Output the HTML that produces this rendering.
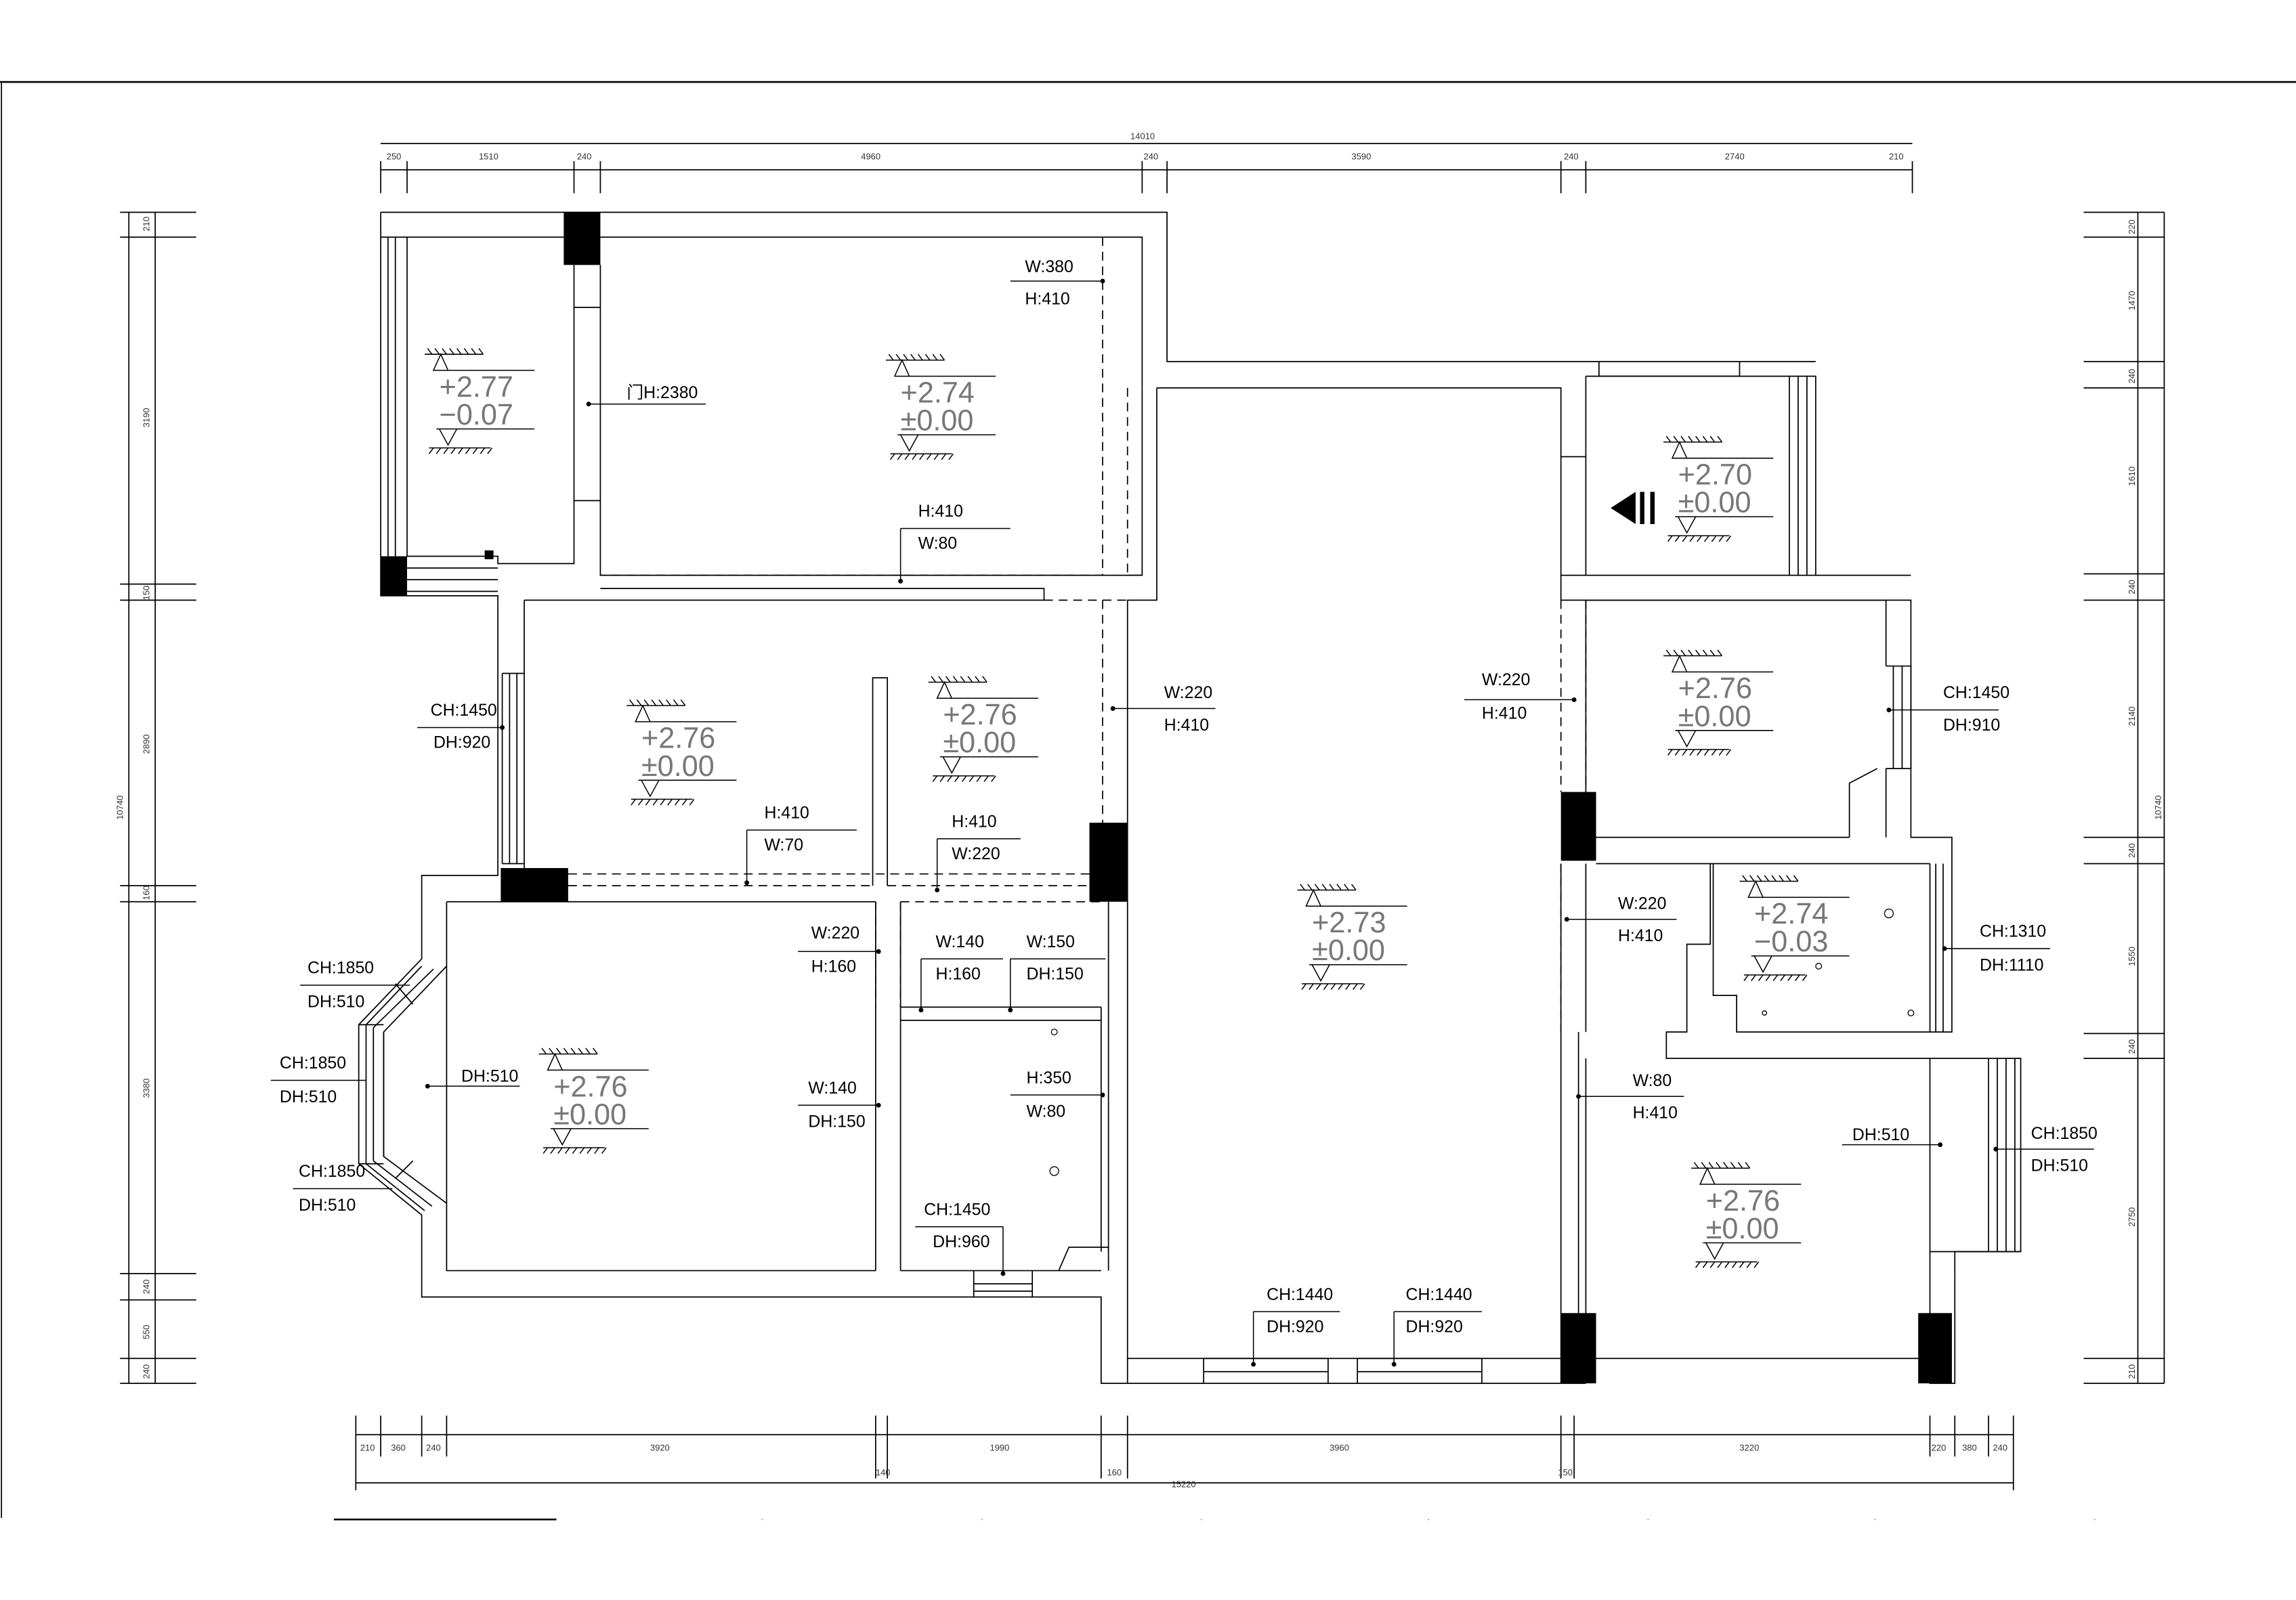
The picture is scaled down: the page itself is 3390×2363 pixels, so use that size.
<!DOCTYPE html>
<html><head><meta charset="utf-8"><style>
html,body{margin:0;padding:0;background:#fff}
svg{display:block}
text{font-family:"Liberation Sans","Noto Sans CJK SC",sans-serif;font-size:11.5px;fill:#000}
.e{font-size:20px;fill:#777;font-weight:300}
.d{font-size:6px;fill:#333}
</style></head><body>
<svg width="3390" height="2363" viewBox="0 0 1568 1093" preserveAspectRatio="none" xmlns="http://www.w3.org/2000/svg">
<defs>
<g id="mk" fill="none" stroke="#000" stroke-width="0.7">
<path d="M0 4H40M2 0l3 4M7 0l3 4M12 0l3 4M17 0l3 4M22 0l3 4M27 0l3 4M32 0l3 4M37 0l3 4"/>
<path d="M11 4L6 15H16Z M6 15H75"/>
<path d="M8 55H75 M10 55L16 66L22 55"/>
<path d="M3 68H45M3 72l3-4M8 72l3-4M13 72l3-4M18 72l3-4M23 72l3-4M28 72l3-4M33 72l3-4M38 72l3-4M43 72l3-4"/>
</g>
</defs>
<rect width="1568" height="1093" fill="#fff"/>
<g stroke="#000" stroke-width="0.8" fill="none">
<!-- frame -->
<path d="M0 56H1568" stroke-width="1.2"/>
<path d="M1 56V1037"/>
<path d="M228 1038H380" stroke-width="1.2"/>
<!-- top dims -->
<path d="M260 98H1306M260 116H1306"/>
<path d="M260 110V132M278 110V132M392 110V132M410 110V132M780 110V132M797 110V132M1066 110V132M1083 110V132M1306 110V132"/>
<!-- left dims -->
<path d="M88 145V945M106 145V945"/>
<path d="M82 145H134M82 162H134M82 399H134M82 410H134M82 605H134M82 616H134M82 870H134M82 888H134M82 928H134M82 945H134"/>
<!-- right dims -->
<path d="M1460 145V945M1478 145V945"/>
<path d="M1423 145H1478M1423 162H1478M1423 247H1478M1423 265H1478M1423 392H1478M1423 410H1478M1423 572H1478M1423 590H1478M1423 706H1478M1423 723H1478M1423 928H1478M1423 945H1478"/>
<!-- bottom dims -->
<path d="M243 980H1375M243 1013H1375"/>
<path d="M243 967V1018M260 967V995M288 967V995M305 967V995M598 967V1010M606 967V1010M752 967V1010M770 967V1010M1066 967V1010M1075 967V1010M1318 967V995M1335 967V995M1358 967V995M1375 967V1018"/>

<!-- walls upper-left balcony -->
<path d="M260 145H797V247H1240"/>
<path d="M260 145V407H340V410"/>
<path d="M260 162H392M410 162H780V265"/>
<path d="M265 162V380M270 162V380M278 162V380"/>
<path d="M278 388H340M278 396H340M278 404H340"/>
<path d="M278 380H340V385H392V181M410 181V393H780"/>
<path d="M392 210H410M392 342H410"/>
<path d="M410 402H713V410"/>
<path d="M340 410V598H288V655L245 700V795L288 830V886H752V945H1083"/>
<path d="M358 410H713M358 410V593"/>
<path d="M343 460V590M348 460V590M353 460V590M343 460H358M343 590H358"/>
<!-- dashed -->
<path d="M753 162V393H410M713 410H770M753 410V562M770 265V393" stroke-dasharray="6 4"/>
<path d="M780 265V393H770"/>
<path d="M790 265H1066V312M790 265V410H770V945"/>
<!-- room C bottom -->
<path d="M388 597H744M388 605H596M606 605H744" stroke-dasharray="6 4"/>
<path d="M596 605V463H606V605"/>
<!-- room D -->
<path d="M305 616H598M305 616V868H598M615 868H752"/>
<path d="M598 616V868M615 616V868"/>
<path d="M598 616V688M615 616V688M615 616H752" stroke-dasharray="6 4"/>
<path d="M615 688H752M615 697H752M757 616V855M752 688V855"/>
<path d="M665 868V886M705 868V886M665 877H705M665 882H705"/>
<path d="M723 868L730 852H757V868" />
<!-- bay -->
<path d="M305 660L262 705V790L305 822"/>
<path d="M250 700V795M255 702V793M262 705V790M250 700L288 660M255 702L296 662M250 795L290 827M255 793L295 824"/>
<path d="M245 700H262M245 795H262M270 672L282 686M270 805L282 793"/>
<!-- living bottom windows -->
<path d="M822 928H907V945M822 928V945M822 937H907M927 928H1012V945M927 928V945M927 937H1012"/>
<path d="M770 928H1066"/>
<!-- right upper room -->
<path d="M1092 247V257H1188V247"/>
<path d="M1083 257V393H1222V257H1083M1066 312H1083M1066 312V410"/>
<path d="M1222 257H1240V393H1222M1228 257V393M1234 257V393"/>
<path d="M1066 410H1305V455M1083 410V541M1066 393H1083"/>
<path d="M1240 393H1305"/>
<!-- room E -->
<path d="M1083 410H1288V455M1288 525V572M1305 455V525M1305 525V572H1333V590"/>
<path d="M1288 455H1305V525H1288M1293 455V525M1299 455V525"/>
<path d="M1263 572V535L1282 525"/>
<path d="M1090 572H1263M1090 590H1318"/>
<!-- room F -->
<path d="M1318 590V705H1333V590M1322 590V705M1327 590V705"/>
<path d="M1168 590V645H1152V705H1138V723H1380V855H1335V872"/>
<path d="M1170 590V680H1186V705H1318"/>
<path d="M1318 723V855M1358 723V855M1364 723V855M1370 723V855M1376 723V855M1318 855H1380"/>
<path d="M1318 855V945H1335V872"/>
<path d="M1066 590V945M1083 723V928M1083 590V705M1078 705V928"/>
<path d="M1066 410V541M1083 410V541M1066 590V705" stroke-dasharray="6 4"/>
<path d="M1083 928H1310"/>
</g>
<!-- pillars -->
<g fill="#000">
<rect x="385" y="145" width="25" height="36"/>
<rect x="260" y="380" width="18" height="27"/>
<rect x="342" y="593" width="46" height="23"/>
<rect x="744" y="562" width="26" height="54"/>
<rect x="1066" y="541" width="24" height="47"/>
<rect x="1066" y="897" width="24" height="48"/>
<rect x="1310" y="897" width="23" height="48"/>
<path d="M1100 347L1117 336V358Z"/>
<rect x="1120" y="336" width="3" height="22"/>
<rect x="1127" y="336" width="3" height="22"/>
<rect x="331" y="376" width="6" height="6"/>
</g>
<!-- small circles -->
<g fill="none" stroke="#000" stroke-width="0.6">
<circle cx="720" cy="705" r="2"/><circle cx="720" cy="800" r="3"/><circle cx="1290" cy="624" r="3"/><circle cx="1242" cy="660" r="2"/><circle cx="1205" cy="692" r="1.5"/><circle cx="1305" cy="692" r="2"/>
</g>
<!-- elevation markers -->
<use href="#mk" x="290" y="238"/><text class="e" x="300" y="271">+2.77</text><text class="e" x="300" y="290">−0.07</text>
<use href="#mk" x="605" y="242"/><text class="e" x="615" y="275">+2.74</text><text class="e" x="615" y="294">±0.00</text>
<use href="#mk" x="428" y="478"/><text class="e" x="438" y="511">+2.76</text><text class="e" x="438" y="530">±0.00</text>
<use href="#mk" x="634" y="462"/><text class="e" x="644" y="495">+2.76</text><text class="e" x="644" y="514">±0.00</text>
<use href="#mk" x="368" y="716"/><text class="e" x="378" y="749">+2.76</text><text class="e" x="378" y="768">±0.00</text>
<use href="#mk" x="886" y="604"/><text class="e" x="896" y="637">+2.73</text><text class="e" x="896" y="656">±0.00</text>
<use href="#mk" x="1136" y="298"/><text class="e" x="1146" y="331">+2.70</text><text class="e" x="1146" y="350">±0.00</text>
<use href="#mk" x="1136" y="444"/><text class="e" x="1146" y="477">+2.76</text><text class="e" x="1146" y="496">±0.00</text>
<use href="#mk" x="1188" y="598"/><text class="e" x="1198" y="631">+2.74</text><text class="e" x="1198" y="650">−0.03</text>
<use href="#mk" x="1155" y="794"/><text class="e" x="1165" y="827">+2.76</text><text class="e" x="1165" y="846">±0.00</text>
<!-- leaders -->
<g stroke="#000" stroke-width="0.7" fill="none">
<path d="M690 192H753M402 276H482M615 361H690M615 361V397M760 484H830M1000 478H1075M285 497H343M510 567H585M510 567V603M640 573H697M640 573V608M1290 485H1365M1070 628H1145M1328 648H1400M545 650H600M629 655H685M629 655V690M690 655H755M690 655V690M185 738H250M292 742H355M690 748H753M545 755H600M1078 749H1150M1258 782H1325M1363 785H1430M200 812H268M205 673H280M625 838H685M685 838V870M856 896H915M856 896V932M952 896H1012M952 896V932"/>
</g>
<g fill="#000">
<circle cx="753" cy="192" r="1.6"/><circle cx="402" cy="276" r="1.6"/><circle cx="615" cy="397" r="1.6"/><circle cx="760" cy="484" r="1.6"/><circle cx="1075" cy="478" r="1.6"/><circle cx="343" cy="497" r="1.6"/><circle cx="510" cy="603" r="1.6"/><circle cx="640" cy="608" r="1.6"/><circle cx="1290" cy="485" r="1.6"/><circle cx="1070" cy="628" r="1.6"/><circle cx="1328" cy="648" r="1.6"/><circle cx="600" cy="650" r="1.6"/><circle cx="629" cy="690" r="1.6"/><circle cx="690" cy="690" r="1.6"/><circle cx="292" cy="742" r="1.6"/><circle cx="753" cy="748" r="1.6"/><circle cx="600" cy="755" r="1.6"/><circle cx="1078" cy="749" r="1.6"/><circle cx="1325" cy="782" r="1.6"/><circle cx="1363" cy="785" r="1.6"/><circle cx="685" cy="870" r="1.6"/><circle cx="856" cy="932" r="1.6"/><circle cx="952" cy="932" r="1.6"/>
</g>
<text x="700" y="186">W:380</text><text x="700" y="208">H:410</text>
<text x="428" y="272">门H:2380</text>
<text x="627" y="353">H:410</text><text x="627" y="375">W:80</text>
<text x="795" y="477">W:220</text><text x="795" y="499">H:410</text>
<text x="1012" y="468">W:220</text><text x="1012" y="491">H:410</text>
<text x="294" y="489">CH:1450</text><text x="296" y="511">DH:920</text>
<text x="522" y="559">H:410</text><text x="522" y="581">W:70</text>
<text x="650" y="565">H:410</text><text x="650" y="587">W:220</text>
<text x="1327" y="477">CH:1450</text><text x="1327" y="499">DH:910</text>
<text x="1105" y="621">W:220</text><text x="1105" y="643">H:410</text>
<text x="1352" y="640">CH:1310</text><text x="1352" y="663">DH:1110</text>
<text x="210" y="665">CH:1850</text><text x="210" y="688">DH:510</text>
<text x="554" y="641">W:220</text><text x="554" y="664">H:160</text>
<text x="639" y="647">W:140</text><text x="639" y="669">H:160</text>
<text x="701" y="647">W:150</text><text x="701" y="669">DH:150</text>
<text x="191" y="730">CH:1850</text><text x="191" y="753">DH:510</text>
<text x="315" y="739">DH:510</text>
<text x="701" y="740">H:350</text><text x="701" y="763">W:80</text>
<text x="552" y="747">W:140</text><text x="552" y="770">DH:150</text>
<text x="1115" y="742">W:80</text><text x="1115" y="764">H:410</text>
<text x="1265" y="779">DH:510</text>
<text x="1387" y="778">CH:1850</text><text x="1387" y="800">DH:510</text>
<text x="204" y="804">CH:1850</text><text x="204" y="827">DH:510</text>
<text x="631" y="830">CH:1450</text><text x="637" y="852">DH:960</text>
<text x="865" y="888">CH:1440</text><text x="865" y="910">DH:920</text>
<text x="960" y="888">CH:1440</text><text x="960" y="910">DH:920</text>
<!-- dim labels -->
<text class="d" x="772" y="95">14010</text>
<text class="d" x="264" y="109">250</text><text class="d" x="327" y="109">1510</text><text class="d" x="394" y="109">240</text><text class="d" x="588" y="109">4960</text><text class="d" x="781" y="109">240</text><text class="d" x="923" y="109">3590</text><text class="d" x="1068" y="109">240</text><text class="d" x="1178" y="109">2740</text><text class="d" x="1290" y="109">210</text>
<text class="d" x="246" y="991">210</text><text class="d" x="267" y="991">360</text><text class="d" x="291" y="991">240</text><text class="d" x="444" y="991">3920</text><text class="d" x="598" y="1008">140</text><text class="d" x="676" y="991">1990</text><text class="d" x="756" y="1008">160</text><text class="d" x="908" y="991">3960</text><text class="d" x="1064" y="1008">150</text><text class="d" x="1188" y="991">3220</text><text class="d" x="1319" y="991">220</text><text class="d" x="1340" y="991">380</text><text class="d" x="1361" y="991">240</text><text class="d" x="800" y="1016">15220</text>
<g class="d">
<text class="d" transform="translate(102,158) rotate(-90)">210</text>
<text class="d" transform="translate(102,292) rotate(-90)">3190</text>
<text class="d" transform="translate(102,410) rotate(-90)">150</text>
<text class="d" transform="translate(102,515) rotate(-90)">2890</text>
<text class="d" transform="translate(102,615) rotate(-90)">160</text>
<text class="d" transform="translate(102,750) rotate(-90)">3380</text>
<text class="d" transform="translate(102,884) rotate(-90)">240</text>
<text class="d" transform="translate(102,915) rotate(-90)">550</text>
<text class="d" transform="translate(102,942) rotate(-90)">240</text>
<text class="d" transform="translate(84,560) rotate(-90)">10740</text>
<text class="d" transform="translate(1458,160) rotate(-90)">220</text>
<text class="d" transform="translate(1458,212) rotate(-90)">1470</text>
<text class="d" transform="translate(1458,262) rotate(-90)">240</text>
<text class="d" transform="translate(1458,332) rotate(-90)">1610</text>
<text class="d" transform="translate(1458,406) rotate(-90)">240</text>
<text class="d" transform="translate(1458,496) rotate(-90)">2140</text>
<text class="d" transform="translate(1458,586) rotate(-90)">240</text>
<text class="d" transform="translate(1458,660) rotate(-90)">1550</text>
<text class="d" transform="translate(1458,720) rotate(-90)">240</text>
<text class="d" transform="translate(1458,838) rotate(-90)">2750</text>
<text class="d" transform="translate(1458,942) rotate(-90)">210</text>
<text class="d" transform="translate(1476,560) rotate(-90)">10740</text>
</g>
<g stroke="#888" stroke-width="0.6"><path d="M520 1038h1M670 1038h1M820 1038h1M975 1038h1M1125 1038h1M1280 1038h1M1430 1038h1"/></g>
</svg>
</body></html>
